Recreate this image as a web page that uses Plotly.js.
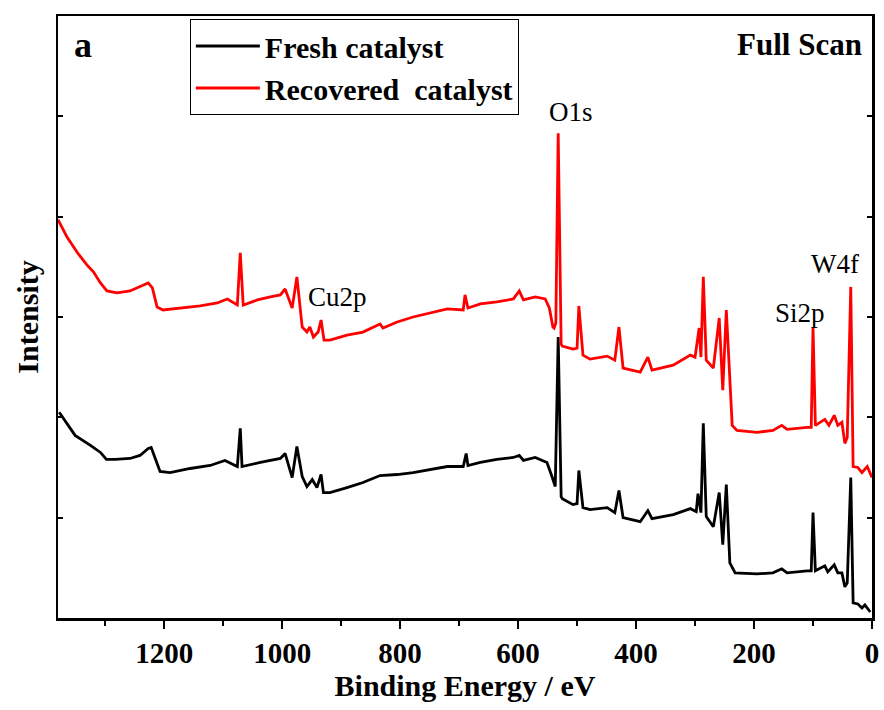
<!DOCTYPE html>
<html>
<head>
<meta charset="utf-8">
<script src="https://cdn.plot.ly/plotly-3.0.1.min.js"></script>
<style>
  html, body { margin: 0; padding: 0; background: #fff; }
  #chart { width: 884px; height: 710px; }
</style>
</head>
<body>
<div id="chart"></div>
<script>
// XPS survey spectra (binding energy in eV, intensity in arbitrary units)
const freshBE = [1378,1351,1325,1308,1298,1283,1258,1241,1227,1222,1207,1190,1156,1122,1097,1076,1071,1068,1037,1003,995,983,975,966,958,949,941,934,930,919,890,863,834,805,778,749,720,693,688,685,664,636,608,598,591,571,551,542,537,532,527,525,507,500,497,490,478,449,436,429,422,393,380,373,337,308,298,295,290,286,281,269,259,253,247,241,232,195,168,153,144,110,103,100,96,80,75,64,58,51,46,42,36,32,24,17,12,3];
const freshI = [2.05,1.82,1.72,1.65,1.58,1.58,1.59,1.62,1.69,1.70,1.46,1.45,1.49,1.52,1.57,1.51,1.89,1.51,1.55,1.59,1.64,1.40,1.71,1.41,1.31,1.38,1.30,1.43,1.25,1.25,1.30,1.35,1.42,1.43,1.45,1.48,1.51,1.51,1.64,1.52,1.55,1.58,1.60,1.62,1.57,1.60,1.55,1.40,1.31,2.80,1.21,1.19,1.13,1.14,1.47,1.10,1.08,1.10,1.05,1.27,1.00,0.96,1.07,0.99,1.03,1.09,1.06,1.24,1.05,1.94,1.01,0.91,1.25,0.73,1.33,0.55,0.45,0.44,0.45,0.49,0.45,0.47,0.47,1.05,0.47,0.52,0.46,0.53,0.45,0.45,0.31,0.35,1.40,0.15,0.14,0.10,0.13,0.06];

const recBE = [1380,1365,1347,1331,1320,1308,1297,1280,1258,1241,1227,1220,1212,1202,1168,1139,1110,1093,1076,1071,1066,1042,1020,1003,995,983,975,966,958,953,947,939,934,929,919,890,863,834,829,805,778,749,720,693,690,685,664,636,608,598,591,571,554,547,541,539,536,532,527,525,507,500,497,490,478,449,436,429,422,393,380,373,337,308,300,293,290,286,281,269,259,253,247,237,229,195,168,153,144,110,103,100,96,80,73,64,58,51,46,42,36,32,24,17,8,0];
const recI = [3.97,3.80,3.64,3.52,3.45,3.34,3.26,3.24,3.26,3.30,3.34,3.29,3.10,3.07,3.09,3.11,3.14,3.18,3.12,3.64,3.12,3.17,3.20,3.22,3.28,3.09,3.40,2.90,2.85,2.90,2.80,2.85,2.97,2.77,2.77,2.82,2.85,2.93,2.89,2.95,3.00,3.04,3.08,3.07,3.22,3.09,3.13,3.15,3.18,3.26,3.17,3.20,3.18,3.09,2.90,2.89,2.94,4.83,2.73,2.71,2.68,2.69,3.11,2.62,2.58,2.61,2.57,2.90,2.49,2.45,2.60,2.47,2.52,2.62,2.60,2.89,2.60,3.40,2.57,2.49,2.99,2.27,3.07,1.92,1.87,1.85,1.87,1.92,1.88,1.90,1.90,2.90,1.92,1.98,1.92,2.02,1.92,1.95,1.74,1.80,3.30,1.51,1.50,1.45,1.51,1.40];

const seriesNames = ['Fresh catalyst', 'Recovered\u00a0 catalyst'];

// Peak assignments: label, binding energy, label height
const peakLabels = ['O1s', 'Cu2p', 'Si2p', 'W4f'];
const peakLabelBE = [511, 906, 122, 63];
const peakLabelI = [5.04, 3.20, 3.04, 3.53];

const serif = 'Liberation Serif';

const traces = [
  { x: freshBE, y: freshI, name: seriesNames[0], type: 'scatter', mode: 'lines',
    line: { color: '#000000', width: 2.8 }, hoverinfo: 'x+y' },
  { x: recBE, y: recI, name: seriesNames[1], type: 'scatter', mode: 'lines',
    line: { color: '#ff0000', width: 2.8 }, hoverinfo: 'x+y' }
];

const annotations = peakLabels.map((t, i) => ({
  x: peakLabelBE[i], y: peakLabelI[i], xref: 'x', yref: 'y',
  text: t, showarrow: false,
  font: { family: serif, size: 27, color: '#000' }
}));
annotations.push({
  xref: 'paper', yref: 'paper', x: 0.017, y: 0.952, xanchor: 'left', yanchor: 'middle',
  text: 'a', showarrow: false, font: { family: serif, size: 36, color: '#000', weight: 'bold' }
});
annotations.push({
  xref: 'paper', yref: 'paper', x: 0.99, y: 0.952, xanchor: 'right', yanchor: 'middle',
  text: 'Full Scan', showarrow: false, font: { family: serif, size: 31, color: '#000', weight: 'bold' }
});

const layout = {
  width: 884, height: 710,
  margin: { l: 58, r: 12, t: 16, b: 92 },
  paper_bgcolor: '#fff', plot_bgcolor: '#fff',
  showlegend: true,
  legend: {
    x: 0.162, y: 0.995, xanchor: 'left', yanchor: 'top',
    bgcolor: '#fff', bordercolor: '#000', borderwidth: 1,
    font: { family: serif, size: 30, color: '#000', weight: 'bold' },
    itemwidth: 64,
    tracegroupgap: 0
  },
  xaxis: {
    range: [1380, 0], autorange: false,
    tick0: 0, dtick: 200,
    ticks: 'outside', ticklen: 8, tickwidth: 2, tickcolor: '#000',
    minor: { tick0: 0, dtick: 100, ticks: 'outside', ticklen: 5, tickwidth: 2, tickcolor: '#000', showgrid: false },
    showline: true, linewidth: 2.5, linecolor: '#000', mirror: true,
    showgrid: false, zeroline: false,
    tickfont: { family: serif, size: 29, color: '#000', weight: 'bold' },
    title: { text: 'Binding Energy / eV', font: { family: serif, size: 30, color: '#000', weight: 'bold' }, standoff: 6 }
  },
  xaxis2: {
    overlaying: 'x', side: 'top', anchor: 'y',
    range: [1380, 0], autorange: false,
    tick0: 0, dtick: 100,
    ticks: 'inside', ticklen: 4, tickwidth: 1.5, tickcolor: '#000',
    showticklabels: false, showline: false, showgrid: false, zeroline: false
  },
  yaxis: {
    range: [0, 6], autorange: false,
    tick0: 0, dtick: 1,
    ticks: 'inside', ticklen: 5, tickwidth: 2, tickcolor: '#000',
    showticklabels: false,
    showline: true, linewidth: 2.5, linecolor: '#000', mirror: 'ticks',
    showgrid: false, zeroline: false,
    title: { text: 'Intensity', font: { family: serif, size: 30, color: '#000', weight: 'bold' }, standoff: 8 }
  },
  annotations: annotations
};

Plotly.newPlot('chart', traces, layout, { displayModeBar: false, staticPlot: true });
</script>
</body>
</html>
